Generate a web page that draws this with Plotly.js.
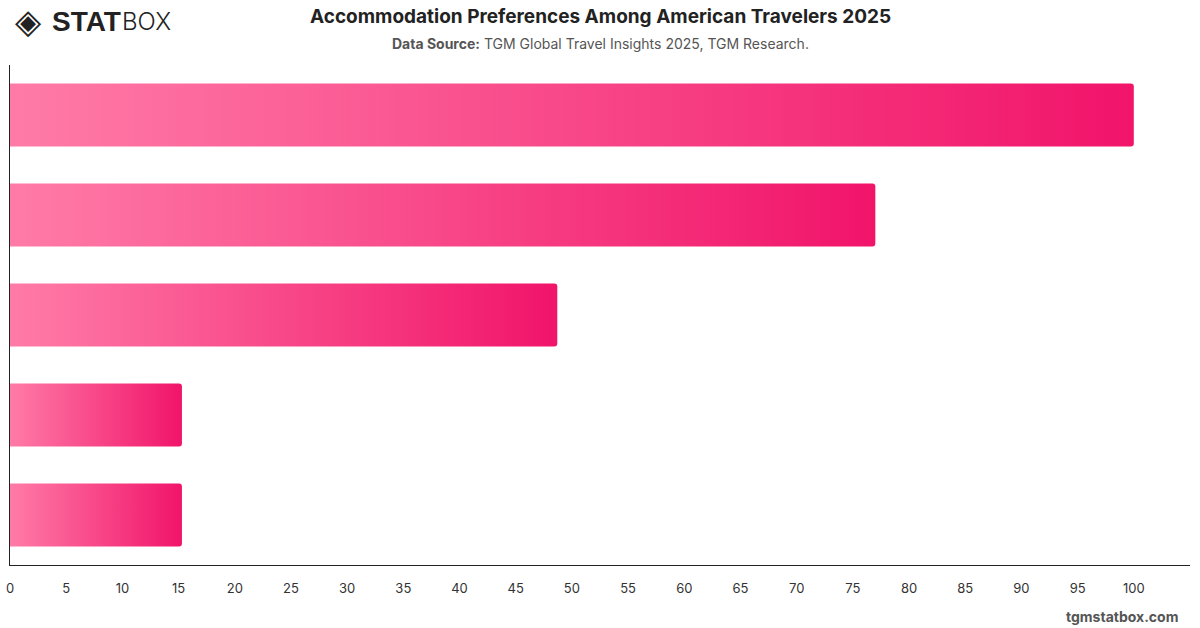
<!DOCTYPE html>
<html>
<head>
<meta charset="utf-8">
<script src="https://cdn.plot.ly/plotly-3.0.1.min.js"></script>
<style>
  html, body { margin: 0; padding: 0; background: #fff; }
  #chart { width: 1200px; height: 628px; }
</style>
</head>
<body>
<div id="chart"></div>
<script>
// Data (category labels are not shown on the chart)
const categories = ["Hotels", "Vacation Rentals", "Resorts", "Hostels", "Camping"];
const shares = [100, 77, 48.7, 15.3, 15.3];
const xTicks = [0, 5, 10, 15, 20, 25, 30, 35, 40, 45, 50, 55, 60, 65, 70, 75, 80, 85, 90, 95, 100];

const titleText = "Accommodation Preferences Among American Travelers 2025";
const subtitleText = "<b>Data Source:</b> TGM Global Travel Insights 2025, TGM Research.";
const footerText = "<b>tgmstatbox.com</b>";

const FONT = "Inter, 'Liberation Sans', Arial, sans-serif";

const trace = {
  type: "bar",
  orientation: "h",
  y: categories,
  x: shares,
  width: 0.63,
  marker: { color: "#f7457f", cornerradius: 3, line: { width: 0 } },
  hoverinfo: "x+y"
};

const layout = {
  width: 1200,
  height: 628,
  margin: { l: 10, r: 10, t: 65, b: 63 },
  paper_bgcolor: "#ffffff",
  plot_bgcolor: "#ffffff",
  showlegend: false,
  font: { family: FONT, color: "#333" },
  xaxis: {
    range: [0, 105],
    tickvals: xTicks,
    ticktext: xTicks.map(String),
    showgrid: false,
    zeroline: false,
    showline: true,
    linecolor: "#222",
    linewidth: 1,
    ticks: "",
    ticklabelstandoff: 11,
    tickfont: { family: FONT, size: 13, color: "#333" },
    fixedrange: true
  },
  yaxis: {
    type: "category",
    autorange: false,
    range: [categories.length - 0.5, -0.5],
    showticklabels: false,
    showgrid: false,
    zeroline: false,
    showline: true,
    linecolor: "#222",
    linewidth: 1,
    ticks: "",
    fixedrange: true
  },
  annotations: [
    { text: "<b>" + titleText + "</b>", font: { family: FONT, size: 19, color: "#222" } },
    { text: subtitleText, font: { family: FONT, size: 14, color: "#555" } },
    { text: footerText, font: { family: FONT, size: 14, color: "#555" } },
    { text: "◈", font: { family: "DejaVu Sans", size: 34, color: "#222" } },
    { text: "<b>STAT</b>", font: { family: "'Liberation Sans', Arial, sans-serif", size: 28, color: "#222" } },
    { text: "BOX", font: { family: "Inter, 'DejaVu Sans', sans-serif", size: 24, weight: 300, color: "#222" } }
  ]
};

// Convert pixel page positions into paper coordinates for the text annotations
const plotW = 1200 - 10 - 10, plotH = 628 - 65 - 63;
function px(xp) { return (xp - 10) / plotW; }
function py(yp) { return (628 - 63 - yp) / plotH; }
const placements = [
  { x: 600, y: 17, xa: "center" },
  { x: 600, y: 44, xa: "center" },
  { x: 1180, y: 616, xa: "right" },
  { x: 28, y: 21, xa: "center" },
  { x: 50, y: 22, xa: "left" },
  { x: 120, y: 22, xa: "left" }
];
layout.annotations.forEach((a, i) => {
  const p = placements[i];
  a.showarrow = false;
  a.xref = "paper"; a.yref = "paper";
  a.x = px(p.x); a.y = py(p.y);
  a.xanchor = p.xa; a.yanchor = "middle";
});

Plotly.newPlot("chart", [trace], layout, { displayModeBar: false, staticPlot: true }).then(function (gd) {
  // Horizontal gradient on each bar (light pink at base to deep pink at the end)
  const svg = gd.querySelector("svg.main-svg");
  const ns = "http://www.w3.org/2000/svg";
  let defs = svg.querySelector("defs");
  if (!defs) { defs = document.createElementNS(ns, "defs"); svg.insertBefore(defs, svg.firstChild); }
  const grad = document.createElementNS(ns, "linearGradient");
  grad.setAttribute("id", "barGrad");
  grad.setAttribute("x1", "0"); grad.setAttribute("x2", "1");
  grad.setAttribute("y1", "0"); grad.setAttribute("y2", "0");
  [["0%", "#ff7ba7"], ["100%", "#f1146a"]].forEach(function (s) {
    const st = document.createElementNS(ns, "stop");
    st.setAttribute("offset", s[0]); st.setAttribute("stop-color", s[1]);
    grad.appendChild(st);
  });
  defs.appendChild(grad);
  gd.querySelectorAll(".barlayer .point path").forEach(function (p) {
    p.style.fill = "url(#barGrad)";
  });
});
</script>
</body>
</html>
